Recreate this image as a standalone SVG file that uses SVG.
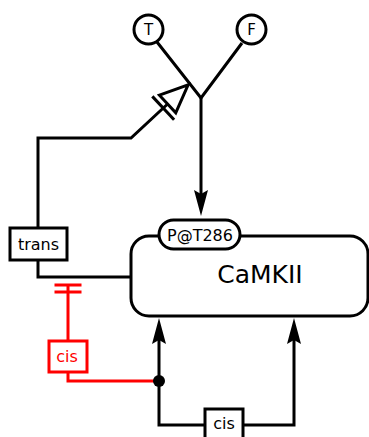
<svg xmlns="http://www.w3.org/2000/svg" width="369" height="437" viewBox="0 0 369 437">
<style>
.ln{fill:none;stroke:#000;stroke-width:3}
.rd{fill:none;stroke:#f00;stroke-width:3}
.bx{fill:#fff;stroke:#000;stroke-width:3}
.rbx{fill:#fff;stroke:#f00;stroke-width:3}
text{font-family:"DejaVu Sans",sans-serif;text-anchor:middle}
</style>
<defs>
<marker id="arr" markerUnits="userSpaceOnUse" orient="auto" overflow="visible" refX="0" refY="0" markerWidth="30" markerHeight="20">
<path d="M22,0 L-4,-7 L0,0 L-4,7 Z" fill="#000"/>
</marker>
<marker id="nec" markerUnits="userSpaceOnUse" orient="auto" overflow="visible" refX="0" refY="0" markerWidth="40" markerHeight="40">
<path d="M-6,-16 L-6,16" stroke="#000" stroke-width="3"/>
<path d="M0,-12 L28,0 L0,12 Z" fill="#fff" stroke="#000" stroke-width="3" stroke-linejoin="miter"/>
</marker>
<marker id="bar2" markerUnits="userSpaceOnUse" orient="auto" overflow="visible" refX="0" refY="0" markerWidth="30" markerHeight="30">
<path d="M0,-13.5 L0,13.5 M-7,-13.5 L-7,13.5" stroke="#f00" stroke-width="3"/>
</marker>
</defs>
<g id="connectors">
<path class="ln" d="M157,42 L201,98 L242,43"/>
<path class="ln" d="M201,98 L201,194" marker-end="url(#arr)"/>
<path class="ln" d="M38,228 L38,138 L131,138 L167.6,104" marker-end="url(#nec)"/>
<path class="ln" d="M38,260 L38,277 L131,277"/>
<path class="ln" d="M205,425 L159,425 L159,340" marker-end="url(#arr)"/>
<path class="ln" d="M243,425 L294,425 L294,340" marker-end="url(#arr)"/>
<path class="rd" d="M68,341 L68,285" marker-end="url(#bar2)"/>
<path class="rd" d="M68,372 L68,381 L159,381"/>
<circle cx="159" cy="381" r="6" fill="#000"/>
</g>
<g id="T">
<circle class="bx" cx="148.5" cy="29.5" r="14.5"/>
<text x="148.5" y="35" font-size="15">T</text>
</g>
<g id="F">
<circle class="bx" cx="251.5" cy="29.5" r="14.5"/>
<text x="251.5" y="35" font-size="15">F</text>
</g>
<g id="CaMKII">
<rect class="bx" x="131" y="236" width="237" height="80" rx="18"/>
<text x="260" y="283" font-size="25">CaMKII</text>
</g>
<g id="P_T286">
<rect class="bx" x="159" y="220" width="81" height="29" rx="14.5"/>
<text x="200" y="241" font-size="16">P@T286</text>
</g>
<g id="trans">
<rect class="bx" x="10" y="228" width="57" height="32"/>
<text x="38.5" y="250" font-size="16">trans</text>
</g>
<g id="cis_red">
<rect class="rbx" x="49" y="341" width="38" height="31"/>
<text x="67" y="362" font-size="16" fill="#f00">cis</text>
</g>
<g id="cis_black">
<rect class="bx" x="205" y="409" width="38" height="32"/>
<text x="224" y="429" font-size="16">cis</text>
</g>
</svg>
